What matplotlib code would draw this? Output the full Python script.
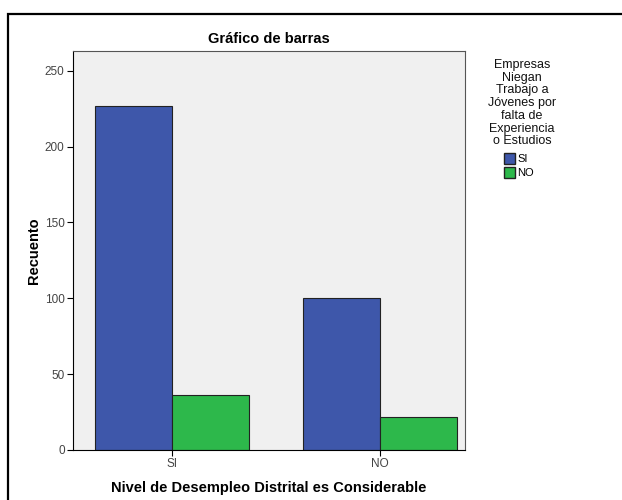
import matplotlib
matplotlib.use('Agg')
import matplotlib.pyplot as plt
from matplotlib.patches import Rectangle, Patch
import numpy as np

plt.rcParams['font.family'] = ['Liberation Sans', 'DejaVu Sans']

# Data
categories = ['SI', 'NO']
series_names = ['SI', 'NO']
counts_si = [227, 100]
counts_no = [36, 22]

color_si = '#3e57aa'
color_no = '#2db84b'

fig = plt.figure(figsize=(6.22, 5.0), dpi=100)
fig.patch.set_facecolor('white')

# outer chart frame
fig.add_artist(Rectangle((8 / 622, -0.05), 1.0, 1 - 14 / 500 + 0.05,
                         transform=fig.transFigure, fill=False,
                         edgecolor='black', linewidth=1.6))

ax = fig.add_axes([73 / 622, 50 / 500, 392 / 622, 399 / 500])
ax.set_facecolor('#f0f0f0')

x = np.arange(len(categories))
w = 0.37
ax.bar(x - w / 2, counts_si, w, color=color_si, edgecolor='#222222', linewidth=0.8)
ax.bar(x + w / 2, counts_no, w, color=color_no, edgecolor='#222222', linewidth=0.8)

ax.set_xlim(-0.476, 1.409)
ax.set_ylim(0, 263)
ax.set_yticks([0, 50, 100, 150, 200, 250])
ax.set_xticks(x)
ax.set_xticklabels(categories)
ax.tick_params(axis='both', labelsize=8.5, labelcolor='#444444', length=4, width=0.8,
               pad=2)

for s in ax.spines.values():
    s.set_color('#555555')
    s.set_linewidth(0.8)
ax.spines['left'].set_color('black')
ax.spines['bottom'].set_color('black')

ax.set_title('Gráfico de barras', fontsize=10.5, fontweight='bold', pad=6)
ax.set_ylabel('Recuento', fontsize=10.5, fontweight='bold', labelpad=3)
ax.set_xlabel('Nivel de Desempleo Distrital es Considerable', fontsize=10.5,
              fontweight='bold', labelpad=8)

# legend
fig.text(522 / 622, 1 - 59 / 500,
         'Empresas\nNiegan\nTrabajo a\nJóvenes por\nfalta de\nExperiencia\no Estudios',
         ha='center', va='top', fontsize=9, linespacing=1.08, color='#111111')
handles = [Patch(facecolor=color_si, edgecolor='#222222', label=series_names[0]),
           Patch(facecolor=color_no, edgecolor='#222222', label=series_names[1])]
fig.legend(handles=handles, loc='upper left', bbox_to_anchor=(504 / 622, 1 - 153 / 500),
           frameon=False, fontsize=8, handlelength=1.0, handleheight=1.1,
           handletextpad=0.2, labelspacing=0.25, borderpad=0, borderaxespad=0)

fig.savefig('out.png', dpi=100)
